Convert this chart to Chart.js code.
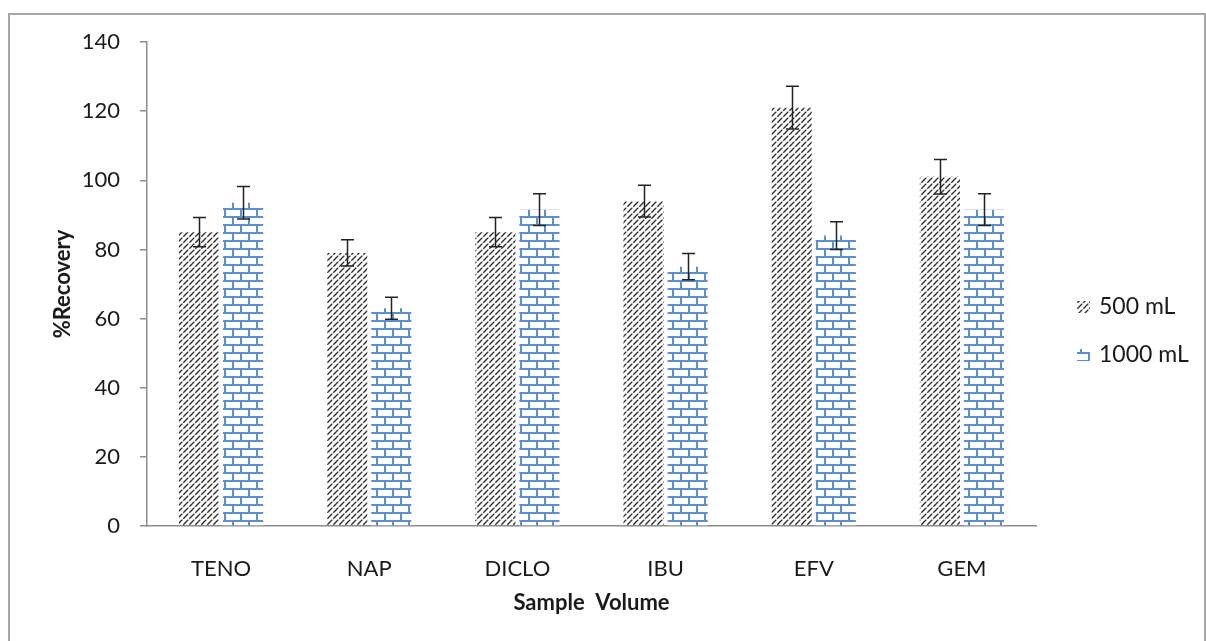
<!DOCTYPE html>
<html lang="en">
<head>
    <meta charset="UTF-8">
    <title>%Recovery by Sample Volume</title>
    <script src="https://cdn.jsdelivr.net/npm/chart.js"></script>
    <style>
        body {
            margin: 0;
            padding: 0;
            background: #fff;
        }
        canvas {
            display: block;
        }
    </style>
</head>
<body>
    <canvas id="recoveryChart" width="1206" height="641"></canvas>

    <script>
        // chart values
        const categories = ['TENO', 'NAP', 'DICLO', 'IBU', 'EFV', 'GEM'];
        const seriesNames = ['500 mL', '1000 mL'];
        const recovery500 = [85, 79, 85, 94, 121, 101];
        const recovery1000 = [93.5, 63, 91.5, 75, 84, 91.5];
        const error500 = [4.2, 3.8, 4.2, 4.6, 6.2, 5.0];
        const error1000 = [4.7, 3.2, 4.6, 3.8, 4.0, 4.6];
        const yTicks = [0, 20, 40, 60, 80, 100, 120, 140];

        const textColor = '#1a1a1a';
        const axisColor = '#8c8c8c';
        const brickBlue = '#5b8fd0';

        // dashed diagonal hatch, a bit broken like the original
        function makeHatch() {
            const c = document.createElement('canvas');
            c.width = 6;
            c.height = 6;
            const g = c.getContext('2d');
            g.strokeStyle = '#2a2a2a';
            g.lineWidth = 1.3;
            g.lineCap = 'butt';
            g.beginPath();
            g.moveTo(0, 6);
            g.lineTo(2.4, 3.6);
            g.moveTo(3.3, 2.7);
            g.lineTo(6, 0);
            g.moveTo(-1, 1);
            g.lineTo(1, -1);
            g.moveTo(5, 7);
            g.lineTo(7, 5);
            g.stroke();
            return c;
        }

        // blue brick wall
        function makeBrick() {
            const c = document.createElement('canvas');
            c.width = 16;
            c.height = 16;
            const g = c.getContext('2d');
            g.fillStyle = '#fff';
            g.fillRect(0, 0, 16, 16);
            g.fillStyle = brickBlue;
            g.fillRect(0, 0, 16, 2);
            g.fillRect(0, 8, 16, 2);
            g.fillRect(0, 0, 2, 8);
            g.fillRect(8, 8, 2, 8);
            return c;
        }

        const ctx = document.getElementById('recoveryChart').getContext('2d');
        const hatch = ctx.createPattern(makeHatch(), 'repeat');
        const brick = ctx.createPattern(makeBrick(), 'repeat');

        const errors = [error500, error1000];

        const errorBars = {
            id: 'errorBars',
            afterDatasetsDraw(chart) {
                const c = chart.ctx;
                const y = chart.scales.y;
                c.save();
                c.strokeStyle = '#222';
                c.lineWidth = 1.5;
                chart.data.datasets.forEach((ds, di) => {
                    const meta = chart.getDatasetMeta(di);
                    meta.data.forEach((bar, i) => {
                        const v = ds.data[i];
                        const e = errors[di][i];
                        const top = y.getPixelForValue(v + e);
                        const bot = y.getPixelForValue(v - e);
                        const x = Math.round(bar.x) + 0.5;
                        c.beginPath();
                        c.moveTo(x, top);
                        c.lineTo(x, bot);
                        c.moveTo(x - 6.5, top);
                        c.lineTo(x + 6.5, top);
                        c.moveTo(x - 6.5, bot);
                        c.lineTo(x + 6.5, bot);
                        c.stroke();
                    });
                });
                c.restore();
            }
        };

        // frame round the chart and the legend on the right
        const frameAndLegend = {
            id: 'frameAndLegend',
            afterDraw(chart) {
                const c = chart.ctx;
                c.save();
                c.strokeStyle = '#a6a6a6';
                c.lineWidth = 2;
                c.beginPath();
                c.moveTo(9, 641);
                c.lineTo(9, 14);
                c.lineTo(1205, 14);
                c.lineTo(1205, 641);
                c.stroke();

                const fills = [hatch, brick];
                const rows = [307, 355];
                c.font = '23px Lato';
                c.textBaseline = 'middle';
                c.fillStyle = textColor;
                seriesNames.forEach((name, i) => {
                    const ry = rows[i];
                    c.save();
                    c.beginPath();
                    c.rect(1077, ry - 6, 13, 12);
                    c.clip();
                    c.fillStyle = fills[i];
                    c.fillRect(1077, ry - 6, 13, 12);
                    c.restore();
                    c.fillText(name, 1099, ry);
                });
                c.restore();
            }
        };

        new Chart(ctx, {
            type: 'bar',
            data: {
                labels: categories,
                datasets: [
                    {
                        label: seriesNames[0],
                        data: recovery500,
                        backgroundColor: hatch,
                        borderWidth: 0
                    },
                    {
                        label: seriesNames[1],
                        data: recovery1000,
                        backgroundColor: brick,
                        borderWidth: 0
                    }
                ]
            },
            options: {
                responsive: false,
                animation: false,
                categoryPercentage: 0.595,
                barPercentage: 0.91,
                layout: {
                    padding: { left: 0, right: 170, top: 42, bottom: 0 }
                },
                plugins: {
                    legend: { display: false },
                    tooltip: { enabled: false }
                },
                scales: {
                    x: {
                        grid: { display: false },
                        border: { display: true, color: axisColor, width: 1.5 },
                        ticks: {
                            color: textColor,
                            padding: 22,
                            font: { family: 'Lato', size: 22 }
                        },
                        title: {
                            display: true,
                            text: 'Sample  Volume',
                            color: textColor,
                            padding: { top: 0, bottom: 25 },
                            font: { family: 'Lato', size: 22, weight: 'bold' }
                        },
                        afterFit(scale) { scale.height = 641 - 526; }
                    },
                    y: {
                        min: 0,
                        max: 140,
                        afterBuildTicks(scale) {
                            scale.ticks = yTicks.map(v => ({ value: v }));
                        },
                        grid: {
                            drawOnChartArea: false,
                            drawTicks: true,
                            tickLength: 7,
                            color: axisColor,
                            lineWidth: 1.5
                        },
                        border: { display: true, color: axisColor, width: 1.5 },
                        ticks: {
                            color: textColor,
                            padding: 20,
                            font: { family: 'Lato', size: 22 }
                        },
                        title: {
                            display: true,
                            text: '%Recovery',
                            color: textColor,
                            padding: { top: 50, bottom: 0 },
                            font: { family: 'Lato', size: 22, weight: 'bold' }
                        },
                        afterFit(scale) { scale.width = 147; }
                    }
                }
            },
            plugins: [errorBars, frameAndLegend]
        });
    </script>
</body>
</html>
